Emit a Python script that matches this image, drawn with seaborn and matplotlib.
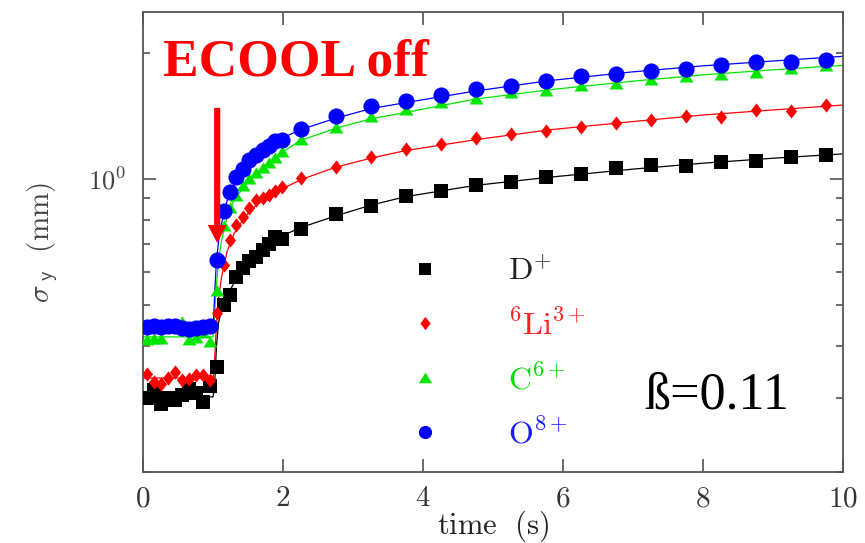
import numpy as np
import pandas as pd
import matplotlib
matplotlib.use("Agg")
import matplotlib.pyplot as plt
import seaborn as sns
from matplotlib import font_manager as fm
from matplotlib.lines import Line2D
from matplotlib.ticker import FixedLocator, NullFormatter, FixedFormatter

# ---- measured beam size after switching the electron cooler off ----
time_s = [0.05, 0.15, 0.25, 0.35, 0.45, 0.55, 0.65, 0.75, 0.85, 0.95,
          1.05, 1.15, 1.24, 1.33, 1.43, 1.52, 1.62, 1.71, 1.80, 1.89, 1.98,
          2.25, 2.75, 3.25, 3.75, 4.25, 4.75, 5.25, 5.75,
          6.25, 6.75, 7.25, 7.75, 8.25, 8.75, 9.25, 9.75]

sigma_D = [0.301, 0.314, 0.291, 0.300, 0.297, 0.306, 0.316, 0.309, 0.294, 0.320,
           0.355, 0.500, 0.530, 0.585, 0.612, 0.637, 0.652, 0.677, 0.700, 0.726, 0.719,
           0.758, 0.824, 0.864, 0.911, 0.936, 0.968, 0.982, 1.013,
           1.028, 1.064, 1.080, 1.074, 1.096, 1.106, 1.127, 1.141]

sigma_Li = [0.343, 0.328, 0.325, 0.336, 0.347, 0.331, 0.334, 0.340, 0.340, 0.331,
            0.478, 0.624, 0.715, 0.777, 0.813, 0.851, 0.891, 0.900, 0.916, 0.935, 0.955,
            1.004, 1.066, 1.130, 1.177, 1.210, 1.251, 1.280, 1.304,
            1.328, 1.362, 1.383, 1.414, 1.404, 1.461, 1.455, 1.502]

sigma_C = [0.413, 0.415, 0.416, 0.452, 0.440, 0.455, 0.413, 0.418, 0.430, 0.409,
           0.540, 0.770, 0.850, 0.910, 0.960, 1.000, 1.030, 1.060, 1.090, 1.120, 1.160,
           1.239, 1.321, 1.404, 1.461, 1.516, 1.552, 1.602, 1.616,
           1.661, 1.683, 1.723, 1.754, 1.771, 1.793, 1.827, 1.860]

sigma_O = [0.444, 0.446, 0.443, 0.447, 0.445, 0.440, 0.438, 0.441, 0.443, 0.445,
           0.641, 0.839, 0.933, 1.013, 1.056, 1.110, 1.137, 1.173, 1.201, 1.228, 1.239,
           1.314, 1.414, 1.488, 1.535, 1.587, 1.637, 1.667, 1.713,
           1.762, 1.781, 1.811, 1.830, 1.864, 1.895, 1.905, 1.916]

# ---- fitted growth curves ----
fit_time = [0.0, 1.0, 1.01, 1.03, 1.05, 1.08, 1.12, 1.2, 1.3, 1.45, 1.6, 1.8,
            1.96, 2.25, 2.75, 3.25, 3.75, 4.75, 5.8, 7.0, 8.0, 9.0, 10.0]
fit_D = [0.302, 0.302, 0.31, 0.34, 0.40, 0.455, 0.485, 0.525, 0.565, 0.61, 0.645, 0.69,
         0.728, 0.765, 0.816, 0.865, 0.907, 0.965, 1.009, 1.055, 1.09, 1.12, 1.147]
fit_Li = [0.335, 0.335, 0.345, 0.39, 0.45, 0.52, 0.58, 0.67, 0.74, 0.81, 0.86, 0.91,
          0.941, 0.995, 1.066, 1.12, 1.168, 1.24, 1.309, 1.37, 1.42, 1.46, 1.50]
fit_C = [0.42, 0.42, 0.44, 0.50, 0.56, 0.64, 0.71, 0.81, 0.89, 0.96, 1.02, 1.09,
         1.15, 1.235, 1.32, 1.39, 1.44, 1.55, 1.631, 1.71, 1.77, 1.82, 1.865]
fit_O = [0.44, 0.44, 0.47, 0.56, 0.64, 0.71, 0.78, 0.885, 0.965, 1.055, 1.12, 1.19,
         1.245, 1.31, 1.395, 1.47, 1.52, 1.62, 1.715, 1.80, 1.86, 1.91, 1.96]

ions = ["D", "Li", "C", "O"]
ion_labels = [r"$\mathrm{D}^{\mathsf{+}}$", r"$^{\mathsf{6}}\mathrm{Li}^{\mathsf{3+}}$",
              r"$\mathrm{C}^{\mathsf{6+}}$", r"$\mathrm{O}^{\mathsf{8+}}$"]
ion_colors = ["#000000", "#ff0000", "#00e600", "#0000ff"]
label_colors = ["#222222", "#ff2020", "#00dd00", "#1a1aff"]

x_ticks = [0, 2, 4, 6, 8, 10]
x_tick_labels = [r"$0$", r"$2$", r"$4$", r"$6$", r"$8$", r"$10$"]

points = pd.DataFrame({
    "time": time_s * 4,
    "sigma": sigma_D + sigma_Li + sigma_C + sigma_O,
    "ion": sum([[k] * len(time_s) for k in ions], []),
})
fits = pd.DataFrame({
    "time": fit_time * 4,
    "sigma": fit_D + fit_Li + fit_C + fit_O,
    "ion": sum([[k] * len(fit_time) for k in ions], []),
})

sns.set_theme(style="ticks")
plt.rcParams["mathtext.fontset"] = "cm"
plt.rcParams["font.family"] = ["DejaVu Sans"]

# pick a Times-like serif face for the annotations
available = {f.name for f in fm.fontManager.ttflist}
serif_face = next(n for n in ["Liberation Serif", "Times New Roman", "Nimbus Roman",
                              "STIXGeneral", "DejaVu Serif", "DejaVu Sans"]
                  if n in available)

fig = plt.figure(figsize=(8.65, 5.43), dpi=100)
ax = fig.add_axes([143 / 865, 1 - 472 / 543, 700 / 865, 460 / 543])

# marker shapes
diamond = [(0, 1), (0.78, 0), (0, -1), (-0.78, 0)]
triangle = [(-1, -0.72), (1, -0.72), (0, 0.88)]
markers = {"D": "s", "Li": diamond, "C": triangle, "O": "o"}
sizes = {"D": 100, "Li": 105, "C": 100, "O": 135}
palette = dict(zip(ions, ion_colors))

for ion in ions:
    sns.lineplot(data=fits[fits.ion == ion], x="time", y="sigma", color=palette[ion],
                 lw=0.9, sort=False, estimator=None, ax=ax, legend=False, zorder=2)
for ion in ions:
    sns.scatterplot(data=points[points.ion == ion], x="time", y="sigma",
                    color=palette[ion], marker=markers[ion], s=sizes[ion],
                    linewidth=0, ax=ax, legend=False, zorder=3)

ax.set_yscale("log")
ax.set_xlim(0, 10)
ax.set_ylim(0.2, 2.5)

ax.xaxis.set_major_locator(FixedLocator(x_ticks))
ax.xaxis.set_major_formatter(FixedFormatter(x_tick_labels))
ax.yaxis.set_major_locator(FixedLocator([1.0]))
ax.yaxis.set_major_formatter(FixedFormatter([r"$\mathsf{10^{0}}$"]))
ax.yaxis.set_minor_locator(FixedLocator([0.2, 0.3, 0.4, 0.5, 0.6, 0.7, 0.8, 0.9, 2.0]))
ax.yaxis.set_minor_formatter(NullFormatter())

ax.tick_params(which="both", direction="in", top=True, right=True,
               color="#444444", width=1.1)
ax.tick_params(which="major", length=9.5)
ax.tick_params(which="minor", length=5)
ax.tick_params(axis="x", labelsize=21, pad=9, labelcolor="#333333")
ax.tick_params(axis="y", labelsize=19, pad=12, labelcolor="#444444")
for sp in ax.spines.values():
    sp.set_color("#555555")
    sp.set_linewidth(1.3)

ax.set_xlabel(r"$\mathrm{time\ \ (s)}$", fontsize=22, color="#222222", labelpad=-3)
ax.set_ylabel(r"$\sigma_{\ \mathsf{y}}\ \ \mathrm{(mm)}$", fontsize=21, color="#444444",
              labelpad=20)

handles = [Line2D([], [], ls="none", marker=markers[k], color=palette[k],
                  markersize=ms, markeredgewidth=0)
           for k, ms in zip(ions, [9, 9.5, 9.5, 9.5])]
leg = ax.legend(handles, ion_labels, loc="upper left", bbox_to_anchor=(0.38, 0.47),
                frameon=False, fontsize=23, handlelength=1.0, handletextpad=2.1,
                labelspacing=0.72, borderpad=0, borderaxespad=0)
for txt, c in zip(leg.get_texts(), label_colors):
    txt.set_color(c)

ax.text(0.029, 0.891, "ECOOL off", transform=ax.transAxes, ha="left", va="center",
        fontsize=38.5, fontweight="bold", color="#ff0000", family=serif_face)
ax.text(0.717, 0.167, "ß=0.11", transform=ax.transAxes, ha="left", va="center",
        fontsize=37.5, color="black", family=serif_face)

ax.annotate("", xy=(1.06, 0.703), xytext=(1.06, 1.477),
            arrowprops=dict(arrowstyle="simple,head_length=0.65,head_width=0.68,tail_width=0.22",
                            mutation_scale=20, color="#ff0000", lw=0,
                            shrinkA=0, shrinkB=0), zorder=5)

fig.savefig("out.png", dpi=100)
